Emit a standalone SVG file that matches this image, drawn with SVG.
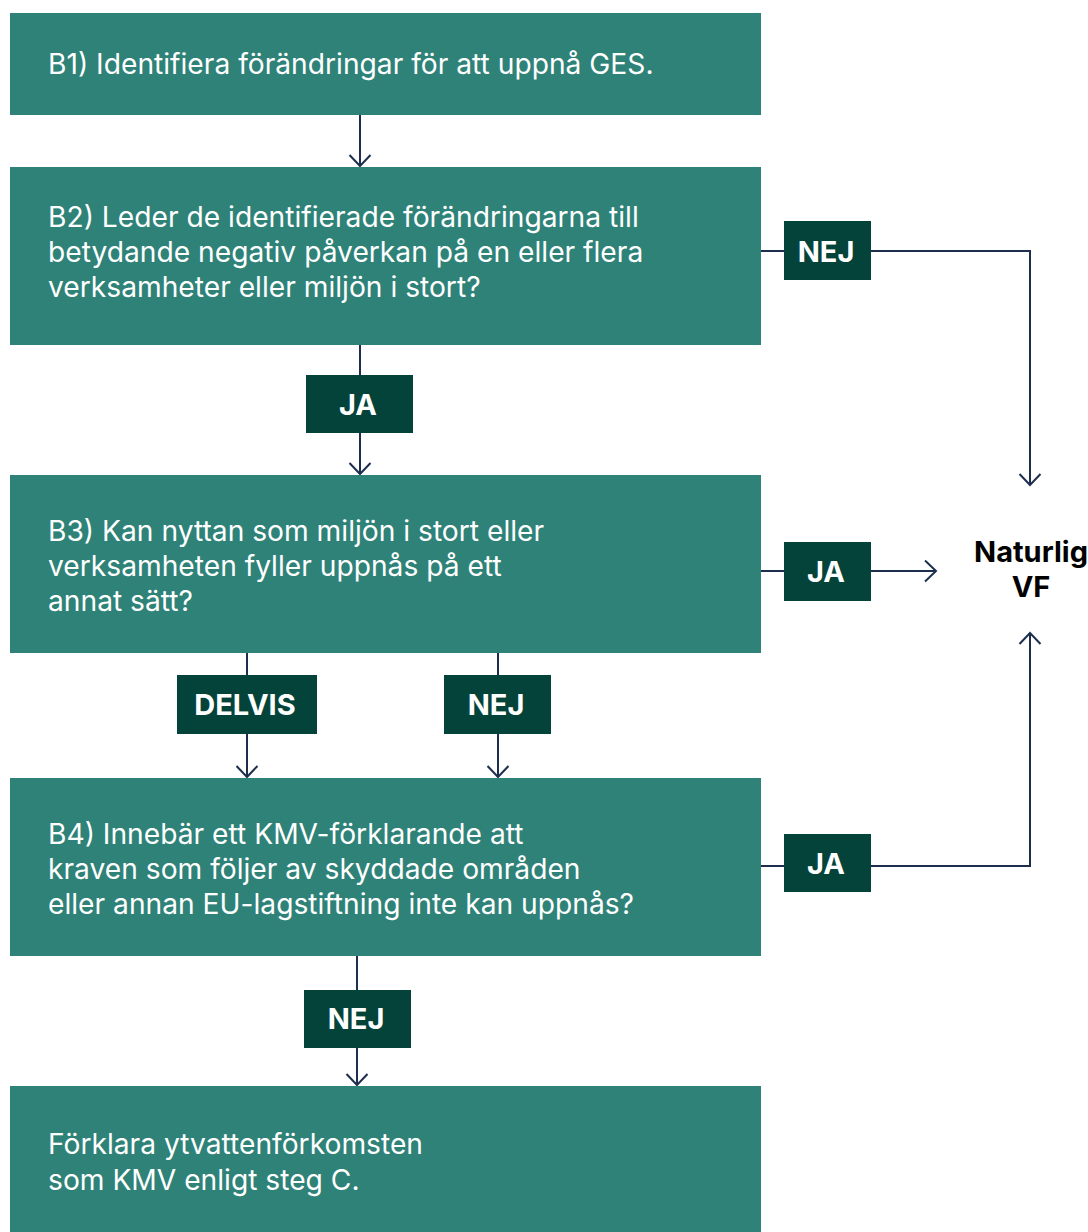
<svg xmlns="http://www.w3.org/2000/svg" width="1088" height="1232" viewBox="0 0 1088 1232">
<style>
.box{fill:#2E8278}
.lbl{fill:#03433A}
.t{font-family:Inter,"Noto Sans",sans-serif;font-size:28.2px;fill:#FFFFFF}
.lt{font-family:Inter,"Noto Sans",sans-serif;font-size:29px;font-weight:700;fill:#FFFFFF;text-anchor:middle}
.nt{font-family:Inter,"Noto Sans",sans-serif;font-size:29px;font-weight:700;fill:#000000;text-anchor:middle}
.c{fill:none;stroke:#1E2F4E;stroke-width:2}
</style>
<defs>
<marker id="ah" markerUnits="userSpaceOnUse" markerWidth="26" markerHeight="26" viewBox="-13 -13 26 26" refX="0" refY="0" orient="auto">
<path d="M-11,-10.5 L0,0 L-11,10.5" fill="none" stroke="#1E2F4E" stroke-width="2"/>
</marker>
</defs>
<rect width="1088" height="1232" fill="#FFFFFF"/>
<g id="connectors">
<path class="c" d="M360,115 V166" marker-end="url(#ah)"/>
<path class="c" d="M360,345 V474" marker-end="url(#ah)"/>
<path class="c" d="M761,251 H1030 V485" marker-end="url(#ah)"/>
<path class="c" d="M761,571 H936" marker-end="url(#ah)"/>
<path class="c" d="M247,653 V777" marker-end="url(#ah)"/>
<path class="c" d="M498,653 V777" marker-end="url(#ah)"/>
<path class="c" d="M761,866 H1030 V633" marker-end="url(#ah)"/>
<path class="c" d="M357,956 V1085" marker-end="url(#ah)"/>
</g>
<g id="B1">
<rect class="box" x="10" y="13" width="751" height="102"/>
<text class="t" x="48" y="74">B1) Identifiera förändringar för att uppnå GES.</text>
</g>
<g id="B2">
<rect class="box" x="10" y="167" width="751" height="178"/>
<text class="t" x="48" y="227">B2) Leder de identifierade förändringarna till</text>
<text class="t" x="48" y="262">betydande negativ påverkan på en eller flera</text>
<text class="t" x="48" y="297">verksamheter eller miljön i stort?</text>
</g>
<g id="B3">
<rect class="box" x="10" y="475" width="751" height="178"/>
<text class="t" x="48" y="541">B3) Kan nyttan som miljön i stort eller</text>
<text class="t" x="48" y="576">verksamheten fyller uppnås på ett</text>
<text class="t" x="48" y="611">annat sätt?</text>
</g>
<g id="B4">
<rect class="box" x="10" y="778" width="751" height="178"/>
<text class="t" x="48" y="844">B4) Innebär ett KMV-förklarande att</text>
<text class="t" x="48" y="879">kraven som följer av skyddade områden</text>
<text class="t" x="48" y="914">eller annan EU-lagstiftning inte kan uppnås?</text>
</g>
<g id="B5">
<rect class="box" x="10" y="1086" width="751" height="146"/>
<text class="t" x="48" y="1154">Förklara ytvattenförkomsten</text>
<text class="t" x="48" y="1190">som KMV enligt steg C.</text>
</g>
<g id="naturlig-vf">
<text class="nt" x="1031" y="562">Naturlig</text>
<text class="nt" x="1031" y="597">VF</text>
</g>
<g id="lbl-b2-nej">
<rect class="lbl" x="784" y="221" width="87" height="59"/>
<text class="lt" x="826" y="262">NEJ</text>
</g>
<g id="lbl-b2-ja">
<rect class="lbl" x="306" y="375" width="107" height="58"/>
<text class="lt" x="358" y="415">JA</text>
</g>
<g id="lbl-b3-ja">
<rect class="lbl" x="784" y="542" width="87" height="59"/>
<text class="lt" x="826" y="582">JA</text>
</g>
<g id="lbl-b3-delvis">
<rect class="lbl" x="177" y="675" width="140" height="59"/>
<text class="lt" x="245" y="715">DELVIS</text>
</g>
<g id="lbl-b3-nej">
<rect class="lbl" x="444" y="675" width="107" height="59"/>
<text class="lt" x="496" y="715">NEJ</text>
</g>
<g id="lbl-b4-ja">
<rect class="lbl" x="784" y="834" width="87" height="58"/>
<text class="lt" x="826" y="874">JA</text>
</g>
<g id="lbl-b4-nej">
<rect class="lbl" x="304" y="990" width="107" height="58"/>
<text class="lt" x="356" y="1029">NEJ</text>
</g>
</svg>
